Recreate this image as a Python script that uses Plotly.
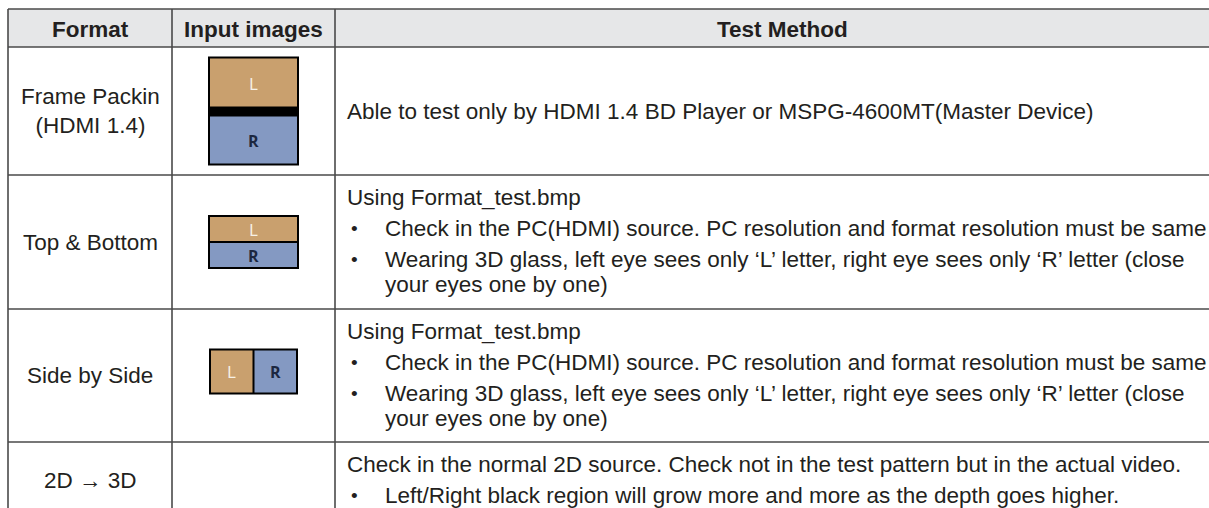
import plotly.graph_objects as go

# ---------------- data ----------------
headers = ["Format", "Input images", "Test Method"]
formats = ["Frame Packin<br>(HDMI 1.4)", "Top & Bottom", "Side by Side", "2D \u2192 3D"]
input_images = ["frame_packing", "top_bottom", "side_by_side", ""]
method_intro = [
    "Able to test only by HDMI 1.4 BD Player or MSPG-4600MT(Master Device)",
    "Using Format_test.bmp",
    "Using Format_test.bmp",
    "Check in the normal 2D source. Check not in the test pattern but in the actual video.",
]
method_bullets = [
    [],
    [
        "Check in the PC(HDMI) source. PC resolution and format resolution must be same",
        "Wearing 3D glass, left eye sees only \u2018L\u2019 letter, right eye sees only \u2018R\u2019 letter (close<br>your eyes one by one)",
    ],
    [
        "Check in the PC(HDMI) source. PC resolution and format resolution must be same",
        "Wearing 3D glass, left eye sees only \u2018L\u2019 letter, right eye sees only \u2018R\u2019 letter (close<br>your eyes one by one)",
    ],
    ["Left/Right black region will grow more and more as the depth goes higher."],
]

# ---------------- layout / style ----------------
W, H = 1209, 508
col_x = [8, 172, 335, 1240]
row_y = [9, 47, 175, 309, 442, 518]
LINE = "#4a4a4a"
HEAD_FILL = "#e6e7e8"
TXT = "#231f20"
FONT = "Liberation Sans, Arial, sans-serif"
FS = 22.5
TAN = "#c9a06e"
BLUE = "#8499c2"
INTRO_OFF = 22
BULLET_GAP = 31
WRAP_GAP = 25
TEXT_X = 345
BULLET_X = 349
BULLET_TEXT_X = 383
ICON_FONT = "Open Sans, sans-serif"

shapes = []
annotations = []

# header fill
shapes.append(dict(type="rect", x0=col_x[0], x1=col_x[-1], y0=row_y[0], y1=row_y[1],
                   fillcolor=HEAD_FILL, line=dict(width=0), layer="below"))
# horizontal lines
for y in row_y[:-1]:
    shapes.append(dict(type="line", x0=col_x[0], x1=col_x[-1], y0=y, y1=y,
                       line=dict(color=LINE, width=1.6)))
# vertical lines
for x in col_x[:-1]:
    shapes.append(dict(type="line", x0=x, x1=x, y0=row_y[0], y1=row_y[-1],
                       line=dict(color=LINE, width=1.6)))

def txt(x, y, s, xanchor="left", bold=False, size=FS, color=TXT, font=FONT):
    annotations.append(dict(x=x, y=y, text=("<b>%s</b>" % s) if bold else s,
                            xref="x", yref="y", xanchor=xanchor, yanchor="middle",
                            showarrow=False, align="center" if xanchor == "center" else "left",
                            font=dict(family=font, size=size, color=color)))

# headers
for i, h in enumerate(headers):
    txt((col_x[i] + col_x[i + 1]) / 2 if i < 2 else 782, (row_y[0] + row_y[1]) / 2 + 1, h, "center", bold=True)

# rows
for r in range(len(formats)):
    top, bot = row_y[r + 1], row_y[r + 2]
    cy = (top + bot) / 2
    # format text
    txt((col_x[0] + col_x[1]) / 2, cy, formats[r], "center")
    # input image icon
    icx = (col_x[1] + col_x[2]) / 2
    kind = input_images[r]
    if kind == "frame_packing":
        w, h = 91, 109
        x0, y0 = icx - w / 2, cy - h / 2
        shapes.append(dict(type="rect", x0=x0, x1=x0 + w, y0=y0, y1=y0 + h,
                           fillcolor="#000000", line=dict(width=0)))
        shapes.append(dict(type="rect", x0=x0 + 2, x1=x0 + w - 2, y0=y0 + 2, y1=y0 + 50,
                           fillcolor=TAN, line=dict(width=0)))
        shapes.append(dict(type="rect", x0=x0 + 2, x1=x0 + w - 2, y0=y0 + 60, y1=y0 + h - 2,
                           fillcolor=BLUE, line=dict(width=0)))
        txt(icx, y0 + 27, "L", "center", size=17, color="#f7f1e6", font=ICON_FONT)
        txt(icx, y0 + 84, "<b>R</b>", "center", size=16, color="#1c2740", font=ICON_FONT)
    elif kind == "top_bottom":
        w, h = 91, 54
        x0, y0 = icx - w / 2, cy - h / 2
        shapes.append(dict(type="rect", x0=x0, x1=x0 + w, y0=y0, y1=y0 + h,
                           fillcolor="#000000", line=dict(width=0)))
        shapes.append(dict(type="rect", x0=x0 + 2, x1=x0 + w - 2, y0=y0 + 2, y1=y0 + h / 2 - 1,
                           fillcolor=TAN, line=dict(width=0)))
        shapes.append(dict(type="rect", x0=x0 + 2, x1=x0 + w - 2, y0=y0 + h / 2 + 1, y1=y0 + h - 2,
                           fillcolor=BLUE, line=dict(width=0)))
        txt(icx, y0 + h / 4 + 1, "L", "center", size=17, color="#f7f1e6", font=ICON_FONT)
        txt(icx, y0 + 3 * h / 4, "<b>R</b>", "center", size=16, color="#1c2740", font=ICON_FONT)
    elif kind == "side_by_side":
        w, h = 89, 46
        x0, y0 = icx - w / 2, cy - h / 2 - 4
        shapes.append(dict(type="rect", x0=x0, x1=x0 + w, y0=y0, y1=y0 + h,
                           fillcolor="#000000", line=dict(width=0)))
        shapes.append(dict(type="rect", x0=x0 + 2, x1=x0 + w / 2 - 1, y0=y0 + 2, y1=y0 + h - 2,
                           fillcolor=TAN, line=dict(width=0)))
        shapes.append(dict(type="rect", x0=x0 + w / 2 + 1, x1=x0 + w - 2, y0=y0 + 2, y1=y0 + h - 2,
                           fillcolor=BLUE, line=dict(width=0)))
        txt(x0 + w / 4, y0 + h / 2, "L", "center", size=17, color="#f7f1e6", font=ICON_FONT)
        txt(x0 + 3 * w / 4, y0 + h / 2, "<b>R</b>", "center", size=16, color="#1c2740", font=ICON_FONT)

    # test method
    if not method_bullets[r]:
        txt(TEXT_X, cy, method_intro[r])
    else:
        y = top + INTRO_OFF
        txt(TEXT_X, y, method_intro[r])
        for b in method_bullets[r]:
            y += BULLET_GAP
            parts = b.split("<br>")
            txt(BULLET_X, y, "\u2022", size=19)
            txt(BULLET_TEXT_X, y, parts[0])
            for p in parts[1:]:
                y += WRAP_GAP
                txt(BULLET_TEXT_X, y, p)

fig = go.Figure()
fig.update_layout(
    width=W, height=H,
    margin=dict(l=0, r=0, t=0, b=0),
    paper_bgcolor="white", plot_bgcolor="white",
    xaxis=dict(range=[0, W], visible=False, fixedrange=True),
    yaxis=dict(range=[H, 0], visible=False, fixedrange=True),
    shapes=shapes, annotations=annotations, showlegend=False,
)
fig.write_html(
    "out.html",
    config={"displayModeBar": False},
    post_script="document.body.style.margin='0';document.body.style.overflow='hidden';",
)
